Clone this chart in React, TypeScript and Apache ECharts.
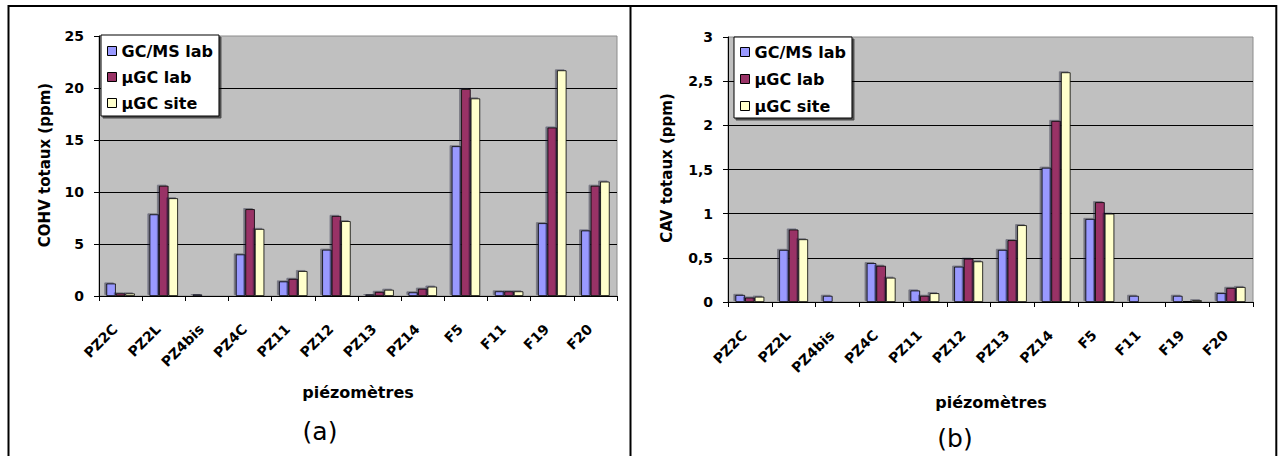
import React, { useEffect, useRef } from "react";
import * as echarts from "echarts";

const categories = ["PZ2C", "PZ2L", "PZ4bis", "PZ4C", "PZ11", "PZ12", "PZ13", "PZ14", "F5", "F11", "F19", "F20"];
const seriesNames = ["GC/MS lab", "µGC lab", "µGC site"];
const seriesColors = ["#9999FF", "#993366", "#FFFFCC"];

const cohvGcms = [1.2, 7.85, 0.15, 4.0, 1.4, 4.45, 0.15, 0.35, 14.4, 0.45, 7.0, 6.3];
const cohvUgcLab = [0.25, 10.6, 0, 8.35, 1.65, 7.7, 0.4, 0.7, 19.9, 0.45, 16.2, 10.6];
const cohvUgcSite = [0.25, 9.4, 0, 6.45, 2.4, 7.2, 0.6, 0.9, 19.0, 0.45, 21.7, 11.0];

const cavGcms = [0.08, 0.59, 0.07, 0.44, 0.13, 0.4, 0.59, 1.52, 0.94, 0.07, 0.07, 0.1];
const cavUgcLab = [0.05, 0.82, 0, 0.41, 0.07, 0.49, 0.7, 2.05, 1.13, 0, 0.01, 0.16];
const cavUgcSite = [0.06, 0.71, 0, 0.275, 0.1, 0.46, 0.87, 2.6, 1.0, 0, 0.02, 0.17];

const leftTitle = "COHV totaux (ppm)";
const rightTitle = "CAV totaux (ppm)";
const xTitle = "piézomètres";

const FONT = "'DejaVu Sans', 'Liberation Sans', Arial, sans-serif";

function makeXAxis(gridIndex: number) {
  return {
    type: "category",
    gridIndex,
    data: categories,
    axisLine: { show: true, lineStyle: { color: "#000", width: 1 } },
    axisTick: { show: true, length: 5, lineStyle: { color: "#000" } },
    axisLabel: {
      show: true,
      interval: 0,
      rotate: 45,
      margin: 25,
      hideOverlap: false,
      fontFamily: FONT,
      fontWeight: "bold",
      fontSize: 14,
      color: "#000",
      formatter: (v: string) => `${v}{s| }`,
      rich: { s: { width: 8, fontSize: 14 } },
    },
    splitLine: { show: false },
  };
}

function makeYAxis(gridIndex: number, max: number, interval: number, comma: boolean) {
  return {
    type: "value",
    gridIndex,
    min: 0,
    max,
    interval,
    axisLine: { show: true, lineStyle: { color: "#000", width: 1 } },
    axisTick: { show: true, length: 5, lineStyle: { color: "#000" } },
    axisLabel: {
      margin: 15,
      fontFamily: FONT,
      fontWeight: "bold",
      fontSize: 14,
      color: "#000",
      formatter: (v: number) => (comma ? String(v).replace(".", ",") : String(v)),
    },
    splitLine: { show: true, showMaxLine: false, lineStyle: { color: "#000", width: 1 } },
  };
}

function makeSeries(idx: number, data: number[], axisIndex: number) {
  return {
    type: "bar",
    name: seriesNames[idx],
    xAxisIndex: axisIndex,
    yAxisIndex: axisIndex,
    data,
    barGap: "0%",
    barCategoryGap: "34%",
    itemStyle: {
      color: seriesColors[idx],
      borderColor: "#000",
      borderWidth: 0.8,
      shadowColor: "rgba(20,20,50,0.45)",
      shadowOffsetX: -2,
      shadowOffsetY: -1,
      shadowBlur: 0,
    },
  };
}

function makeLegend(left: number, top: number, padding: number[], gap: number) {
  return {
    orient: "vertical",
    left,
    top,
    padding,
    itemGap: gap,
    itemWidth: 9,
    itemHeight: 9,
    icon: "rect",
    selectedMode: false,
    backgroundColor: "#fff",
    borderColor: "#000",
    borderWidth: 1,
    shadowColor: "rgba(0,0,0,0.6)",
    shadowOffsetX: 2,
    shadowOffsetY: 2,
    shadowBlur: 0,
    textStyle: { fontFamily: FONT, fontWeight: "bold", fontSize: 16, color: "#000", lineHeight: 18 },
    itemStyle: { borderColor: "#000", borderWidth: 1, shadowColor: "transparent", shadowOffsetX: 0, shadowOffsetY: 0 },
    data: seriesNames,
  };
}

function txt(text: string, x: number, y: number, size: number, bold: boolean, rotation = 0) {
  return {
    type: "text",
    x,
    y,
    rotation,
    silent: true,
    style: {
      text,
      fill: "#000",
      fontFamily: FONT,
      fontSize: size,
      fontWeight: bold ? "bold" : "normal",
      align: "center",
      verticalAlign: "middle",
    },
  };
}

function ln(x1: number, y1: number, x2: number, y2: number) {
  return { type: "line", silent: true, shape: { x1, y1, x2, y2 }, style: { stroke: "#000", lineWidth: 2 } };
}

export default function App() {
  const ref = useRef<HTMLDivElement>(null);
  useEffect(() => {
    if (!ref.current) return;
    const chart = echarts.init(ref.current, undefined, { renderer: "svg" });
    chart.setOption({
      animation: false,
      backgroundColor: "#fff",
      grid: [
        { left: 99, top: 36, width: 518, height: 260, show: true, backgroundColor: "#C0C0C0", borderColor: "#8c8c8c", borderWidth: 1, containLabel: false },
        { left: 728, top: 37, width: 525, height: 265, show: true, backgroundColor: "#C0C0C0", borderColor: "#8c8c8c", borderWidth: 1, containLabel: false },
      ],
      xAxis: [makeXAxis(0), makeXAxis(1)],
      yAxis: [makeYAxis(0, 25, 5, false), makeYAxis(1, 3, 0.5, true)],
      legend: [makeLegend(101, 35, [7, 6, 4, 6], 8), makeLegend(734, 37, [6, 6, 3, 6], 9)],
      series: [
        makeSeries(0, cohvGcms, 0),
        makeSeries(1, cohvUgcLab, 0),
        makeSeries(2, cohvUgcSite, 0),
        makeSeries(0, cavGcms, 1),
        makeSeries(1, cavUgcLab, 1),
        makeSeries(2, cavUgcSite, 1),
      ],
      graphic: [
        ln(8, 6, 1277, 6),
        ln(8.5, 5, 8.5, 456),
        ln(630.5, 5, 630.5, 456),
        ln(1276.3, 5, 1276.3, 456),
        txt(leftTitle, 45, 165, 15, true, Math.PI / 2),
        txt(rightTitle, 667, 168, 15, true, Math.PI / 2),
        txt(xTitle, 358, 392, 16, true),
        txt(xTitle, 991, 402, 16, true),
        txt("(a)", 320, 431, 25, false),
        txt("(b)", 955, 438, 25, false),
      ],
    });
    return () => chart.dispose();
  }, []);
  return (
    <div
      ref={ref}
      style={{ position: "absolute", left: 0, top: 0, width: 1279, height: 456, overflow: "hidden", background: "#fff" }}
    />
  );
}
